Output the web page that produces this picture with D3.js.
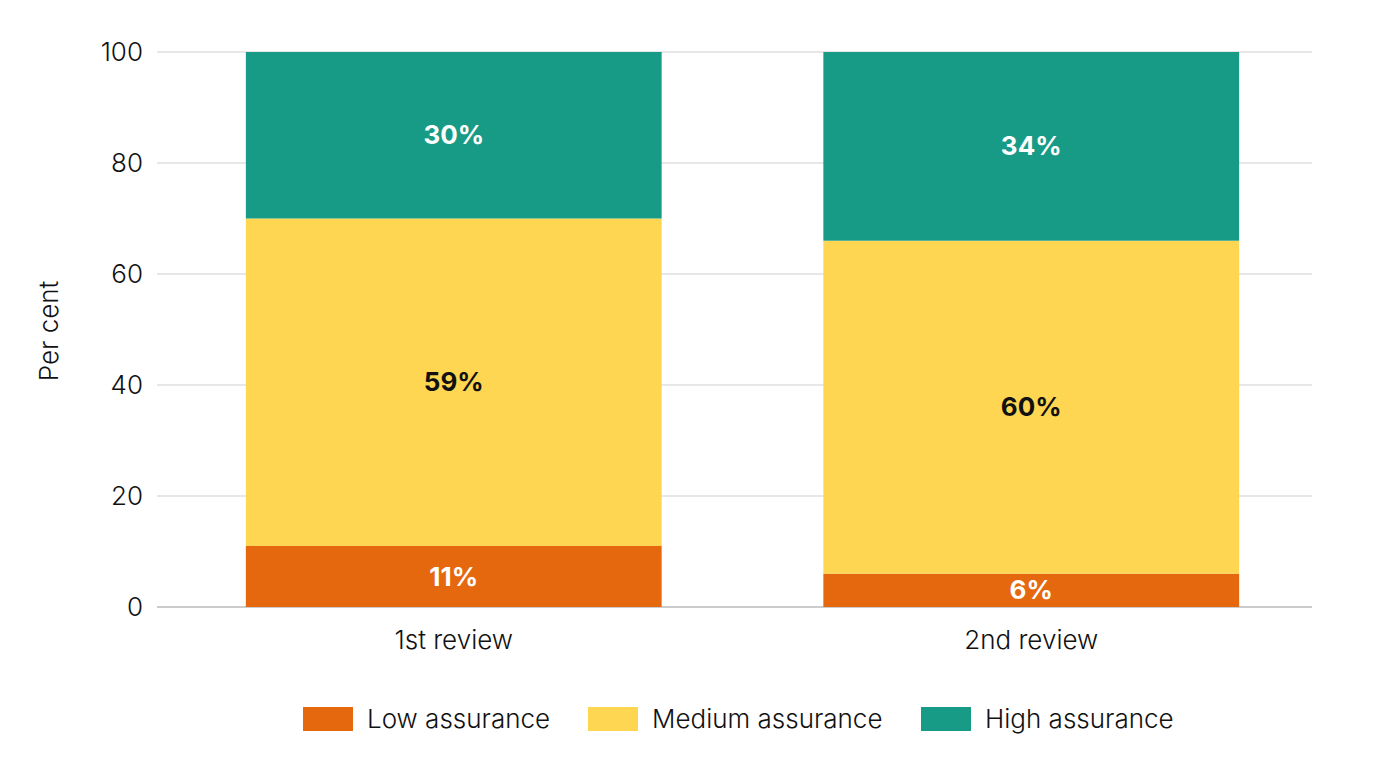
<!DOCTYPE html>
<html>
<head>
<meta charset="utf-8">
<script src="https://cdn.jsdelivr.net/npm/d3@7"></script>
<style>
  body { margin: 0; background: #fff; }
  text { font-family: Inter, "Noto Sans", sans-serif; }
</style>
</head>
<body>
<script>
var categories = ["1st review", "2nd review"];
var seriesNames = ["Low assurance", "Medium assurance", "High assurance"];
var lowValues = [11, 6];
var mediumValues = [59, 60];
var highValues = [30, 34];
var yTicks = [0, 20, 40, 60, 80, 100];
var colors = ["#E5680F", "#FED652", "#189B86"];
var labelColors = ["#fff", "#111", "#fff"];

var data = categories.map(function(c, i) {
  return { cat: c, low: lowValues[i], medium: mediumValues[i], high: highValues[i] };
});
var keys = ["low", "medium", "high"];

var width = 1378, height = 774;
var svg = d3.select("body").append("svg").attr("width", width).attr("height", height);

var y = d3.scaleLinear().domain([0, 100]).range([607, 52]);
var x = d3.scaleBand().domain(categories).range([165, 1320]).paddingInner(0.28).paddingOuter(0.14);

// gridlines
svg.append("g").selectAll("line")
  .data(yTicks)
  .enter().append("line")
  .attr("x1", 157).attr("x2", 1312)
  .attr("y1", function(d) { return y(d); })
  .attr("y2", function(d) { return y(d); })
  .attr("stroke", function(d) { return d === 0 ? "#999" : "#cfcfcf"; })
  .attr("stroke-width", 1);

// y tick labels
svg.append("g").selectAll("text")
  .data(yTicks)
  .enter().append("text")
  .attr("x", 143)
  .attr("y", function(d) { return y(d); })
  .attr("dy", "0.35em")
  .attr("text-anchor", "end")
  .attr("font-size", 26)
  .attr("font-weight", 300)
  .attr("fill", "#111")
  .text(function(d) { return d; });

svg.append("text")
  .attr("transform", "translate(58,331) rotate(-90)")
  .attr("text-anchor", "middle")
  .attr("font-size", 26)
  .attr("font-weight", 300)
  .attr("fill", "#111")
  .text("Per cent");

var stacked = d3.stack().keys(keys)(data);

var layers = svg.append("g").selectAll("g")
  .data(stacked)
  .enter().append("g")
  .attr("fill", function(d, i) { return colors[i]; });

layers.selectAll("rect")
  .data(function(d) { return d; })
  .enter().append("rect")
  .attr("x", function(d) { return x(d.data.cat); })
  .attr("width", x.bandwidth())
  .attr("y", function(d) { return y(d[1]); })
  .attr("height", function(d) { return y(d[0]) - y(d[1]); });

layers.each(function(layer, li) {
  d3.select(this).selectAll("text")
    .data(layer)
    .enter().append("text")
    .attr("x", function(d) { return x(d.data.cat) + x.bandwidth() / 2; })
    .attr("y", function(d) { return y((d[0] + d[1]) / 2); })
    .attr("dy", "0.35em")
    .attr("text-anchor", "middle")
    .attr("font-size", 26)
    .attr("font-weight", "bold")
    .attr("fill", labelColors[li])
    .text(function(d) { return (d[1] - d[0]) + "%"; });
});

// x category labels
svg.append("g").selectAll("text")
  .data(categories)
  .enter().append("text")
  .attr("x", function(d) { return x(d) + x.bandwidth() / 2; })
  .attr("y", 640)
  .attr("dy", "0.35em")
  .attr("text-anchor", "middle")
  .attr("font-size", 26)
  .attr("font-weight", 300)
  .attr("fill", "#111")
  .text(function(d) { return d; });

// legend
var legendX = [303, 588, 921];
var legend = svg.append("g").selectAll("g")
  .data(seriesNames)
  .enter().append("g")
  .attr("transform", function(d, i) { return "translate(" + legendX[i] + ",707)"; });
legend.append("rect")
  .attr("width", 50).attr("height", 24)
  .attr("fill", function(d, i) { return colors[i]; });
legend.append("text")
  .attr("x", 64).attr("y", 12)
  .attr("dy", "0.35em")
  .attr("font-size", 26)
  .attr("font-weight", 300)
  .attr("fill", "#111")
  .text(function(d) { return d; });
</script>
</body>
</html>
